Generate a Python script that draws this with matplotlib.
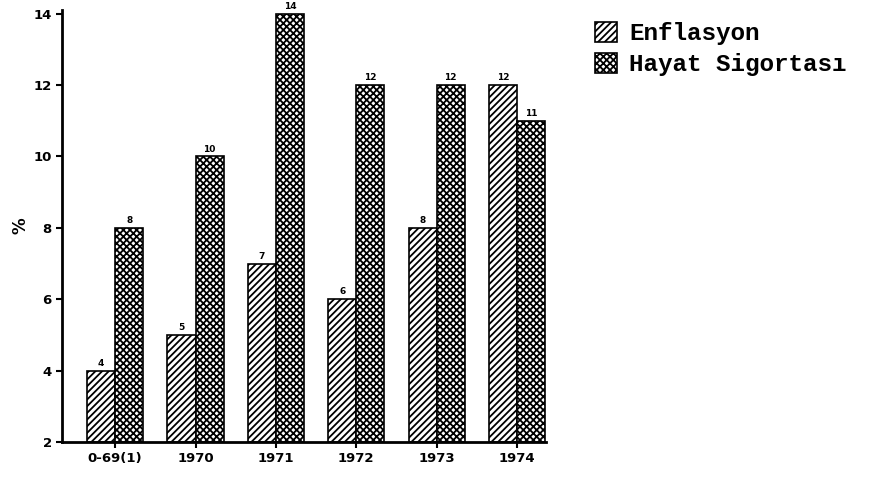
import matplotlib
matplotlib.use("Agg")
import matplotlib.pyplot as plt
import numpy as np

categories = ["0-69(1)", "1970", "1971", "1972", "1973", "1974"]
enflasyon = [4, 5, 7, 6, 8, 12]
hayat = [8, 10, 14, 12, 12, 11]
yticks = [2, 4, 6, 8, 10, 12, 14]

plt.rcParams['hatch.linewidth'] = 1.3
fig = plt.figure(figsize=(8.75, 4.8), dpi=100)
ax = fig.add_axes([0.071, 0.079, 0.553, 0.9])

x = np.arange(len(categories))
w = 0.35
b1 = ax.bar(x - w/2, np.array(enflasyon) - 2, w, bottom=2, facecolor='white',
            edgecolor='black', hatch='/////', linewidth=1.2, label='Enflasyon')
b2 = ax.bar(x + w/2, np.array(hayat) - 2, w, bottom=2, facecolor='white',
            edgecolor='black', hatch='xxxxx', linewidth=1.2, label='Hayat Sigortası')

for xi, v in zip(x - w/2, enflasyon):
    ax.text(xi, v + 0.08, str(v), ha='center', va='bottom', fontsize=6.5, fontweight='bold')
for xi, v in zip(x + w/2, hayat):
    ax.text(xi, v + 0.08, str(v), ha='center', va='bottom', fontsize=6.5, fontweight='bold')

ax.set_xlim(-0.66, 5.36)
ax.set_ylim(2, 14.1)
ax.set_yticks(yticks)
ax.set_xticks(x)
ax.set_xticklabels(categories, fontsize=9.5, fontweight='bold')
for lab in ax.get_yticklabels():
    lab.set_fontsize(9.5)
    lab.set_fontweight('bold')
ax.tick_params(axis='both', direction='out', length=4, width=1.5)
ax.spines['top'].set_visible(False)
ax.spines['right'].set_visible(False)
ax.spines['left'].set_linewidth(2)
ax.spines['bottom'].set_linewidth(2)
ax.set_ylabel('%', fontsize=12, fontweight='bold', labelpad=3)

fig.legend(handles=[b1, b2], loc='upper left', bbox_to_anchor=(0.655, 1.0),
           frameon=False, prop={'family': 'Liberation Mono', 'weight': 'bold', 'size': 17.5},
           handlelength=0.9, handleheight=0.9, handletextpad=0.5, labelspacing=0.3)

fig.savefig('out.png', dpi=100)
